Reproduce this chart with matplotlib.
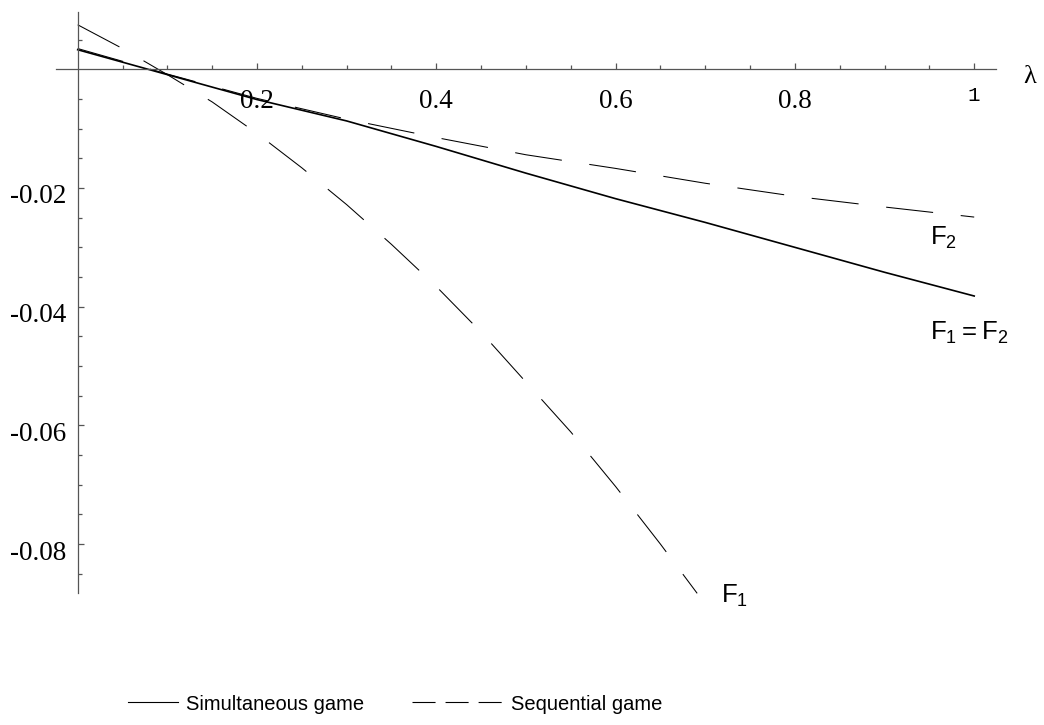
import matplotlib
matplotlib.use('Agg')
import matplotlib.pyplot as plt
from matplotlib.lines import Line2D
from matplotlib.transforms import offset_copy

plt.rcParams['lines.scale_dashes'] = False  # dash lengths in points, not scaled by width
plt.rcParams['mathtext.fontset'] = 'custom'
plt.rcParams['mathtext.rm'] = 'Liberation Sans'

# values
lam = [0.0, 0.1, 0.2, 0.3, 0.4, 0.5, 0.6, 0.7, 0.8, 0.9, 1.0]
simultaneous = [0.0033, -0.0009, -0.0051, -0.0087, -0.0130, -0.0175,
                -0.0218, -0.0258, -0.0300, -0.0342, -0.0382]
sequential_f2 = [0.0035, -0.0008, -0.0049, -0.0084, -0.0115, -0.0144,
                 -0.0167, -0.0192, -0.0214, -0.0232, -0.0249]
lam_f1 = [0.0, 0.05, 0.1, 0.15, 0.2, 0.25, 0.3, 0.35, 0.4, 0.45, 0.5,
          0.55, 0.6, 0.65, 0.691]
sequential_f1 = [0.0075, 0.0035, -0.0009, -0.0055, -0.0108, -0.0166, -0.0228,
                 -0.0295, -0.0366, -0.0443, -0.0527, -0.0611, -0.0703,
                 -0.0800, -0.0883]

xtick_vals = [0.2, 0.4, 0.6, 0.8]
xtick_text = ['0.2', '0.4', '0.6', '0.8']
ytick_vals = [-0.02, -0.04, -0.06, -0.08]
ytick_text = ['-0.02', '-0.04', '-0.06', '-0.08']
xminor = [0.05, 0.1, 0.15, 0.25, 0.3, 0.35, 0.45, 0.5, 0.55, 0.65, 0.7,
          0.75, 0.85, 0.9, 0.95]
yminor = [0.005, -0.005, -0.01, -0.015, -0.025, -0.03, -0.035, -0.045,
          -0.05, -0.055, -0.065, -0.07, -0.075, -0.085]

fig = plt.figure(figsize=(10.44, 7.25), dpi=100)
ax = fig.add_axes([0, 0, 1, 1])
ax.set_xlim(-0.08667, 1.07786)
ax.set_ylim(-0.110482, 0.011677)

ax.plot(lam, simultaneous, color='black', lw=1.2)
ax.plot(lam, sequential_f2, color='black', lw=0.75, dashes=(34, 20))
ax.plot(lam_f1, sequential_f1, color='black', lw=0.75, dashes=(34, 20))

# axes through the origin, Mathematica style
axis_col = '#555555'
for side in ['top', 'right']:
    ax.spines[side].set_visible(False)
ax.spines['left'].set_position(('data', 0))
ax.spines['bottom'].set_position(('data', 0))
ax.spines['left'].set_bounds(-0.0883, 0.0097)
ax.spines['bottom'].set_bounds(-0.0238, 1.0246)
for side in ['left', 'bottom']:
    ax.spines[side].set_color(axis_col)
    ax.spines[side].set_linewidth(0.9)

ax.set_xticks(xtick_vals + [1.0])
ax.set_xticks(xminor, minor=True)
ax.set_yticks(ytick_vals)
ax.set_yticks(yminor, minor=True)
ax.tick_params(which='both', direction='in', color=axis_col, width=0.9,
               labelbottom=False, labelleft=False)
ax.tick_params(which='major', length=4.3)
ax.tick_params(which='minor', length=3.1)

# tick labels
for v, t in zip(xtick_vals, xtick_text):
    ax.text(v, 0, t, transform=offset_copy(ax.transData, fig, y=-39, units='dots'),
            ha='center', va='baseline', family='Liberation Serif', fontsize=19.5)
ax.text(1.0, 0, '1', transform=offset_copy(ax.transData, fig, y=-32, units='dots'),
        ha='center', va='baseline', family='Liberation Mono', fontsize=15)
for v, t in zip(ytick_vals, ytick_text):
    ax.text(0, v, t, transform=offset_copy(ax.transData, fig, x=-11, y=-15.5, units='dots'),
            ha='right', va='baseline', family='Liberation Serif', fontsize=19.5)
ax.text(1.0, 0, 'λ', transform=offset_copy(ax.transData, fig, x=55, y=-14, units='dots'),
        ha='center', va='baseline', family='Liberation Serif', fontsize=19)

# curve labels
ax.text(0.951, -0.0296, r'$\mathregular{F_2}$', family='Liberation Sans', fontsize=18.5)
ax.text(0.951, -0.0456, r'$\mathregular{F_1 = F_2}$', family='Liberation Sans', fontsize=18.5)
ax.text(0.718, -0.0899, r'$\mathregular{F_1}$', family='Liberation Sans', fontsize=18.5)

# legend below the plot
leg_font = {'family': 'Liberation Sans', 'size': 14.5}
h1 = Line2D([], [], color='black', lw=0.8)
h2 = Line2D([], [], color='black', lw=0.8, dashes=(16.6, 7.2))
leg1 = ax.legend([h1], ['Simultaneous game'], loc='center left',
                 bbox_to_anchor=(128 / 1044, 1 - 704 / 725), bbox_transform=fig.transFigure,
                 frameon=False, handlelength=2.48, handletextpad=0.4,
                 borderpad=0, borderaxespad=0, prop=leg_font)
ax.add_artist(leg1)
ax.legend([h2], ['Sequential game'], loc='center left',
          bbox_to_anchor=(411.7 / 1044, 1 - 704 / 725), bbox_transform=fig.transFigure,
          frameon=False, handlelength=4.52, handletextpad=0.4,
          borderpad=0, borderaxespad=0, prop=leg_font)

fig.savefig('out.png', dpi=100)
